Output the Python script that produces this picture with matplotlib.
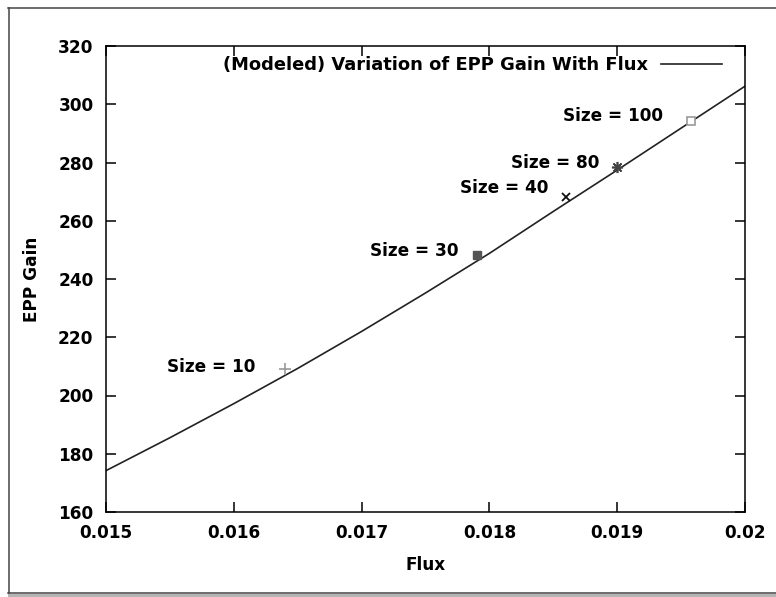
import numpy as np
import matplotlib
matplotlib.use("Agg")
import matplotlib.pyplot as plt
from matplotlib.lines import Line2D
from matplotlib.patches import Rectangle

# modeled curve
flux_curve = [0.015, 0.0155, 0.016, 0.0165, 0.017, 0.0175, 0.018, 0.0185, 0.019, 0.0195, 0.02]
gain_curve = [174.2, 185.5, 197.2, 209.3, 222.0, 235.2, 248.8, 263.2, 277.4, 291.8, 306.2]

# measured points for each size
size_labels = ["Size = 10", "Size = 30", "Size = 40", "Size = 80", "Size = 100"]
size_flux = [0.0164, 0.0179, 0.0186, 0.0190, 0.01958]
size_gain = [209.0, 248.2, 268.0, 278.6, 294.3]

x_ticks = [0.015, 0.016, 0.017, 0.018, 0.019, 0.02]
x_ticklabels = ["0.015", "0.016", "0.017", "0.018", "0.019", "0.02"]
y_ticks = [160, 180, 200, 220, 240, 260, 280, 300, 320]

plt.rcParams['font.family'] = ['DejaVu Sans']
plt.rcParams['font.weight'] = 'bold'
fs = 12.2

fig = plt.figure(figsize=(7.76, 5.97), dpi=100)
W, H = 776.0, 597.0
ax = fig.add_axes([106 / W, 1 - 512 / H, 639 / W, 466 / H])

ax.plot(flux_curve, gain_curve, color='#222222', lw=1.2,
        label='(Modeled) Variation of EPP Gain With Flux')

# point styles, loosely like gnuplot's
styles = [
    dict(marker='+', ms=8, mew=1.2, color='#999999'),
    dict(marker='s', ms=5.5, color='#555555'),
    dict(marker='x', ms=5.5, mew=1.3, color='#111111'),
    dict(marker=(8, 2, 0), ms=8, mew=1.2, color='#444444'),
    dict(marker='s', ms=6, mew=1.2, mfc='white', mec='#999999', color='#999999'),
]
offsets = [(-30, 2.6), (-18, 4.3), (-18, 9), (-18, 3.4), (-28, 5)]
for lab, fx, g, st, off in zip(size_labels, size_flux, size_gain, styles, offsets):
    ax.plot([fx], [g], linestyle='none', **st)
    ax.annotate(lab, (fx, g), xytext=off, textcoords='offset pixels',
                ha='right', va='center', fontsize=fs, fontweight='bold')

ax.set_xlim(0.015, 0.02)
ax.set_ylim(160, 320)
ax.set_xticks(x_ticks)
ax.set_xticklabels(x_ticklabels)
ax.set_yticks(y_ticks)
ax.tick_params(direction='in', length=7, width=1.1, top=True, right=True,
               labelsize=fs, pad=9)
for lbl in ax.get_xticklabels() + ax.get_yticklabels():
    lbl.set_fontweight('bold')
for sp in ax.spines.values():
    sp.set_linewidth(1.1)

ax.set_xlabel('Flux', fontsize=fs, fontweight='bold', va='center')
ax.set_ylabel('EPP Gain', fontsize=fs, fontweight='bold', va='center')
ax.xaxis.set_label_coords(0.5, (512 - 565) / 466.0)
ax.yaxis.set_label_coords((32 - 106) / 639.0, 0.5)

ax.legend(loc='center right', bbox_to_anchor=(722 / W, 1 - 65.5 / H),
          bbox_transform=fig.transFigure, frameon=False, markerfirst=False,
          borderpad=0, borderaxespad=0, handlelength=3.4, handletextpad=0.75,
          prop={'size': 12.9, 'weight': 'bold'})

# grey page frame around the chart
fig.add_artist(Line2D([8 / W, 1], [1 - 7.5 / H, 1 - 7.5 / H], color='#444444', lw=1.1))
fig.add_artist(Line2D([8.5 / W, 8.5 / W], [1 - 7.5 / H, 1 - 593 / H], color='#444444', lw=1.1))
fig.add_artist(Rectangle((8 / W, 0), 1, 3.5 / H, transform=fig.transFigure,
                         color='#b4b4b4', lw=0))
fig.add_artist(Line2D([8 / W, 1], [1 - 593 / H, 1 - 593 / H], color='#444444', lw=1.1))

fig.savefig('out.png', dpi=100)
